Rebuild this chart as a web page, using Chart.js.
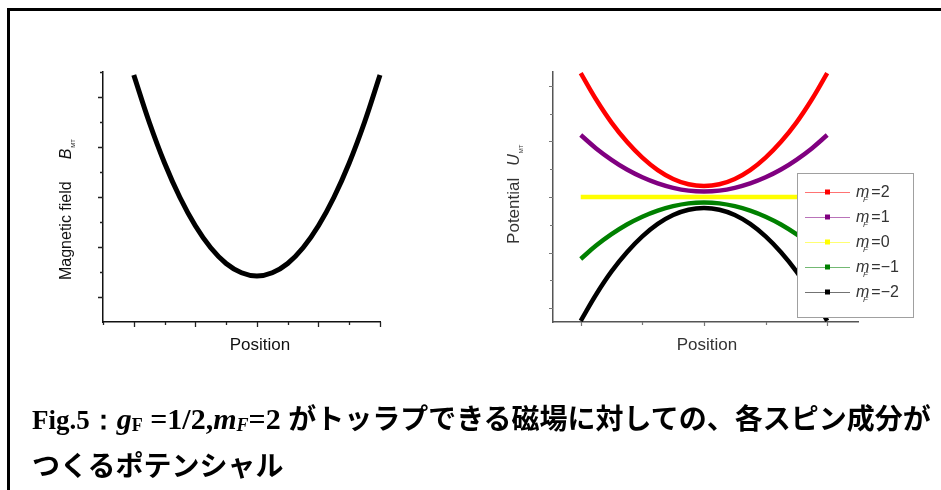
<!DOCTYPE html>
<html>
<head>
<meta charset="utf-8">
<script src="https://cdn.jsdelivr.net/npm/chart.js@4/dist/chart.umd.min.js"></script>
<style>
  html, body { margin: 0; padding: 0; background: #fff; }
  body { width: 941px; height: 490px; position: relative; overflow: hidden; }
  #frame { position: absolute; left: 7px; top: 8px; width: 960px; height: 500px;
           border-left: 3px solid #000; border-top: 3px solid #000; }
  canvas { position: absolute; left: 0; top: 0; }
  #potentialChart { filter: blur(0.5px); }
  .cap { position: absolute; left: 32px; white-space: nowrap; font-weight: bold; color: #000; line-height: 34px; }
  .lat { font-family: "Liberation Serif", serif; font-size: 27px; }
  .lat2 { font-family: "Liberation Serif", serif; font-size: 30px; }
  .lat2 sub { font-size: 0.6em; vertical-align: -0.1em; }
  .jp { font-family: "Noto Sans CJK JP", sans-serif; font-size: 28px; }
</style>
</head>
<body>
<div id="frame"></div>
<canvas id="fieldChart" width="941" height="490"></canvas>
<canvas id="potentialChart" width="941" height="490"></canvas>
<div class="cap" style="top:400px"><span class="lat">Fig.5：</span><span class="lat2"><i>g</i><sub>F</sub> =1/2,<i>m</i><sub><i>F</i></sub>=2 </span><span class="jp">がトッラプできる磁場に対しての、各スピン成分が</span></div>
<div class="cap" style="top:447px"><span class="jp">つくるポテンシャル</span></div>

<script>
// Sample positions along the trap axis
const positions = [-4, -3.5, -3, -2.5, -2, -1.5, -1, -0.5, 0, 0.5, 1, 1.5, 2, 2.5, 3, 3.5, 4];

// Magnetic field magnitude B_MT at each position
const fieldB = [9.88, 8.00, 6.36, 4.98, 3.85, 2.97, 2.34, 1.97, 1.84, 1.97, 2.34, 2.97, 3.85, 4.98, 6.36, 8.00, 9.88];

// Potential U_MT for each spin component m_F
const potentialMF2  = [4.46, 3.51, 2.68, 1.99, 1.42, 0.97, 0.65, 0.46, 0.40, 0.46, 0.65, 0.97, 1.42, 1.99, 2.68, 3.51, 4.46];
const potentialMF1  = [2.23, 1.75, 1.34, 0.99, 0.71, 0.49, 0.33, 0.23, 0.20, 0.23, 0.33, 0.49, 0.71, 0.99, 1.34, 1.75, 2.23];
const potentialMF0  = [0, 0, 0, 0, 0, 0, 0, 0, 0, 0, 0, 0, 0, 0, 0, 0, 0];
const potentialMFm1 = [-2.23, -1.75, -1.34, -0.99, -0.71, -0.49, -0.33, -0.23, -0.20, -0.23, -0.33, -0.49, -0.71, -0.99, -1.34, -1.75, -2.23];
const potentialMFm2 = [-4.46, -3.51, -2.68, -1.99, -1.42, -0.97, -0.65, -0.46, -0.40, -0.46, -0.65, -0.97, -1.42, -1.99, -2.68, -3.51, -4.46];

// Legend labels (value of m_F) in drawing order
const spinLabels = ['2', '1', '0', '\u22121', '\u22122'];
const spinSeries = [potentialMF2, potentialMF1, potentialMF0, potentialMFm1, potentialMFm2];
const spinColors = ['#ff0000', '#800080', '#ffff00', '#008000', '#000000'];

// Tick positions for both panels
const fieldXTicks = [-5, -4, -3, -2, -1, 0, 1, 2, 3, 4];
const fieldXMajor = [-4, -2, 0, 2, 4];
const fieldYTicks = [1, 2, 3, 4, 5, 6, 7, 8, 9, 10];
const fieldYMajor = [1, 3, 5, 7, 9];
const potXTicks = [-4, -2, 0, 2, 4];
const potXMajor = [-4, 0, 4];
const potYTicks = [-4, -3, -2, -1, 0, 1, 2, 3, 4];
const potYMajor = [-4, -2, 0, 2, 4];

const SANS = '"Liberation Sans", Arial, sans-serif';

function toPoints(xs, ys) { return xs.map((x, i) => ({ x: x, y: ys[i] })); }

// Bare linear axis: only the axis line is drawn by Chart.js, ticks/titles come from the plugin
function bareAxis(min, max, color, width, vertical) {
  return {
    type: 'linear', min: min, max: max,
    ticks: { display: false },
    grid: { display: true, drawOnChartArea: false, drawTicks: false },
    border: { display: true, color: color, width: width },
    afterFit(s) { if (vertical) s.width = 0; else s.height = 0; }
  };
}

// Draws rich text (list of parts) rotated to read bottom-to-top, centred at cy
function drawRotated(ctx, baseX, cy, parts) {
  ctx.save();
  ctx.translate(baseX, cy);
  ctx.rotate(-Math.PI / 2);
  let total = 0;
  parts.forEach(p => { ctx.font = p.font; total += ctx.measureText(p.t).width + (p.gap || 0); });
  let x = -total / 2;
  ctx.textAlign = 'left';
  ctx.textBaseline = 'alphabetic';
  parts.forEach(p => {
    ctx.font = p.font;
    ctx.fillText(p.t, x, p.dy || 0);
    x += ctx.measureText(p.t).width + (p.gap || 0);
  });
  ctx.restore();
}

// Tick marks and axis titles
const axisDecor = {
  id: 'axisDecor',
  afterDraw(chart, args, o) {
    const ctx = chart.ctx, ca = chart.chartArea, xs = chart.scales.x, ys = chart.scales.y;
    ctx.save();
    ctx.strokeStyle = o.tickColor;
    ctx.lineWidth = o.tickWidth;
    ctx.beginPath();
    o.xTicks.forEach(v => {
      const px = Math.round(xs.getPixelForValue(v)) + 0.5;
      const len = o.xMajor.includes(v) ? o.majorLen : o.minorLen;
      ctx.moveTo(px, ca.bottom); ctx.lineTo(px, ca.bottom + len);
    });
    o.yTicks.forEach(v => {
      const py = Math.round(ys.getPixelForValue(v)) + 0.5;
      const len = o.yMajor.includes(v) ? o.majorLen : o.minorLen;
      ctx.moveTo(ca.left, py); ctx.lineTo(ca.left - len, py);
    });
    ctx.stroke();

    ctx.fillStyle = o.textColor;
    ctx.font = o.xTitleFont;
    ctx.textAlign = 'center';
    ctx.textBaseline = 'alphabetic';
    ctx.fillText(o.xTitle, xs.getPixelForValue(o.xTitleAt) + 3, ca.bottom + o.xTitleGap);

    drawRotated(ctx, ca.left - o.yTitleGap, ys.getPixelForValue(o.yTitleAt), o.yTitleParts);
    ctx.restore();
  }
};

// Boxed legend with italic m_F labels
const spinLegend = {
  id: 'spinLegend',
  afterDraw(chart, args, o) {
    if (!o.enabled) return;
    const ctx = chart.ctx;
    ctx.save();
    ctx.fillStyle = '#fff';
    ctx.fillRect(o.left, o.top, o.width, o.height);
    ctx.strokeStyle = '#a0a0a0';
    ctx.lineWidth = 1;
    ctx.strokeRect(o.left + 0.5, o.top + 0.5, o.width, o.height);
    chart.data.datasets.forEach((ds, i) => {
      const yRow = o.top + o.firstRow + i * o.rowGap;
      const xl = o.left + 8;
      ctx.strokeStyle = ds.borderColor;
      ctx.globalAlpha = 0.55;
      ctx.beginPath();
      ctx.moveTo(xl, yRow + 0.5); ctx.lineTo(xl + 45, yRow + 0.5);
      ctx.stroke();
      ctx.globalAlpha = 1;
      ctx.fillStyle = ds.borderColor;
      ctx.fillRect(xl + 20, yRow - 2.5, 5, 5);

      const tx = xl + 51, base = yRow + 5;
      ctx.fillStyle = '#333';
      ctx.textAlign = 'left';
      ctx.textBaseline = 'alphabetic';
      ctx.font = 'italic 16px ' + SANS;
      ctx.fillText('m', tx, base);
      const mw = ctx.measureText('m').width;
      ctx.font = 'italic 8px ' + SANS;
      ctx.fillText('F', tx + 7, base + 5);
      ctx.font = '16px ' + SANS;
      ctx.fillText('=' + spinLabels[i], tx + mw + 2, base);
    });
    ctx.restore();
  }
};

const common = {
  responsive: false,
  animation: false,
  events: [],
  devicePixelRatio: 1
};

// Left panel: magnetic field
new Chart(document.getElementById('fieldChart'), {
  type: 'line',
  data: {
    datasets: [{
      data: toPoints(positions, fieldB),
      borderColor: '#000', borderWidth: 5, pointRadius: 0,
      tension: 0.4, fill: false, clip: false
    }]
  },
  options: Object.assign({}, common, {
    layout: { padding: { left: 103, right: 941 - 380, top: 72, bottom: 490 - 322 } },
    scales: {
      x: bareAxis(-5, 4, '#111', 1.5, false),
      y: bareAxis(0, 10, '#111', 1.5, true)
    },
    plugins: {
      legend: { display: false },
      tooltip: { enabled: false },
      axisDecor: {
        tickColor: '#222', tickWidth: 1.3, majorLen: 5, minorLen: 3,
        xTicks: fieldXTicks, xMajor: fieldXMajor, yTicks: fieldYTicks, yMajor: fieldYMajor,
        textColor: '#111',
        xTitle: 'Position', xTitleFont: '17px ' + SANS, xTitleAt: 0, xTitleGap: 28,
        yTitleAt: 4.5, yTitleGap: 32,
        yTitleParts: [
          { t: 'Magnetic field', font: '16px ' + SANS, gap: 22 },
          { t: 'B', font: 'italic 16px ' + SANS, gap: 1 },
          { t: 'MT', font: '6px ' + SANS, dy: 4 }
        ]
      }
    }
  }),
  plugins: [axisDecor]
});

// Right panel: potential of each spin component
new Chart(document.getElementById('potentialChart'), {
  type: 'line',
  data: {
    datasets: spinSeries.map((s, i) => ({
      label: 'mF=' + spinLabels[i],
      data: toPoints(positions, s),
      borderColor: spinColors[i], borderWidth: 4.5, pointRadius: 0,
      tension: 0.4, fill: false, clip: false
    }))
  },
  options: Object.assign({}, common, {
    layout: { padding: { left: 553, right: 941 - 858, top: 72, bottom: 490 - 322 } },
    scales: {
      x: bareAxis(-4.9, 5, '#555', 1.5, false),
      y: bareAxis(-4.5, 4.5, '#555', 1.5, true)
    },
    plugins: {
      legend: { display: false },
      tooltip: { enabled: false },
      axisDecor: {
        tickColor: '#777', tickWidth: 1.2, majorLen: 4, minorLen: 3,
        xTicks: potXTicks, xMajor: potXMajor, yTicks: potYTicks, yMajor: potYMajor,
        textColor: '#333',
        xTitle: 'Position', xTitleFont: '17px ' + SANS, xTitleAt: 0, xTitleGap: 28,
        yTitleAt: 0.1, yTitleGap: 34,
        yTitleParts: [
          { t: 'Potential', font: '17px ' + SANS, gap: 12 },
          { t: 'U', font: 'italic 16px ' + SANS, gap: 1 },
          { t: 'MT', font: '6px ' + SANS, dy: 4 }
        ]
      },
      spinLegend: { enabled: true, left: 797, top: 173, width: 116, height: 144, firstRow: 19, rowGap: 25 }
    }
  }),
  plugins: [axisDecor, spinLegend]
});
</script>
</body>
</html>
